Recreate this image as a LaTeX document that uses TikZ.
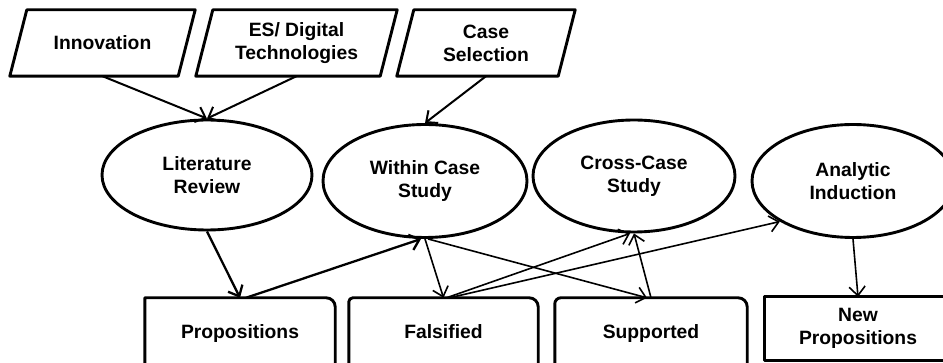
\documentclass[tikz,border=0pt]{standalone}
\usepackage{fontspec}
\setmainfont{Liberation Sans}
\usetikzlibrary{shapes.geometric,arrows.meta}
\begin{document}
\begin{tikzpicture}[x=1pt,y=-1pt,
  font=\fontsize{19.3}{23}\selectfont\bfseries,
  shapeline/.style={line width=2.9pt,line join=round},
  inbox/.style={inner sep=0pt,minimum height=66pt,align=center},
  oval/.style={ellipse,draw,shapeline,inner sep=0pt,align=center},
  outbox/.style={inner sep=0pt,align=center,minimum height=72pt,text height=14pt,text depth=4pt},
  arr/.style={-{Straight Barb[length=9pt,width=16pt,line join=miter]},line width=1.6pt},
  thickarr/.style={arr,line width=2.3pt}]
\useasboundingbox (0,0) rectangle (943,363);
\clip (0,0) rectangle (943,363);
% top input parallelograms
\node[inbox,minimum width=185pt] (inn) at (102.5,43) {Innovation};
\node[inbox,minimum width=201pt] (es) at (296.5,43) {ES/ Digital\\Technologies};
\node[inbox,minimum width=178pt] (case) at (486,43) {Case\\Selection};
\foreach \n in {inn,es,case}{
  \draw[shapeline] ([xshift=17pt]\n.north west) -- (\n.north east) -- ([xshift=-17pt]\n.south east) -- (\n.south west) -- cycle;
}
% ellipses
\node[oval,minimum width=210pt,minimum height=110pt] (lit) at (207,175) {Literature\\Review};
\node[oval,minimum width=204pt,minimum height=113pt] (within) at (425,181) {Within Case\\Study};
\node[oval,minimum width=202pt,minimum height=112pt] (cross) at (634,176) {Cross-Case\\Study};
\node[oval,minimum width=202pt,minimum height=113pt] (ana) at (853,181) {Analytic\\Induction};
% bottom boxes
\node[outbox,minimum width=190pt] (prop) at (240,334) {Propositions};
\node[outbox,minimum width=189pt] (fal) at (443.5,334) {Falsified};
\node[outbox,minimum width=192pt] (sup) at (651,334) {Supported};
\node[inner sep=0pt,align=center,minimum width=186pt,minimum height=63pt] (newp) at (858,328.5) {New\\Propositions};
\draw[shapeline] (prop.south west) -- (prop.north west) [rounded corners=9pt] -- (prop.north east) -- (prop.south east);
\draw[shapeline] (fal.south west) [rounded corners=4pt] -- (fal.north west) [rounded corners=9pt] -- (fal.north east) -- (fal.south east);
\draw[shapeline] (sup.south west) [rounded corners=6pt] -- (sup.north west) [rounded corners=9pt] -- (sup.north east) -- (sup.south east);
\draw[shapeline] (newp.north west) rectangle (newp.south east);
% connectors
\draw[arr,line width=2pt] (inn.south) -- (lit.north);
\draw[arr,line width=2pt] (es.south) -- (lit.north);
\draw[arr,line width=2pt] (case.south) -- (within.north);
\draw[thickarr] (lit.south) -- (prop.north);
\draw[thickarr] ([xshift=6pt]prop.north) -- ([xshift=-4pt]within.south);
\draw[arr] (within.south) -- (fal.north);
\draw[arr] ([xshift=3pt]within.south) -- ([xshift=-4pt]sup.north);
\draw[arr] ([xshift=3pt]fal.north) -- ([xshift=-4pt]cross.south);
\draw[arr] ([xshift=6pt]fal.north) -- (ana.209);
\draw[arr] (sup.north) -- (cross.south);
\draw[arr] (ana.south) -- (newp.north);
\end{tikzpicture}
\end{document}
